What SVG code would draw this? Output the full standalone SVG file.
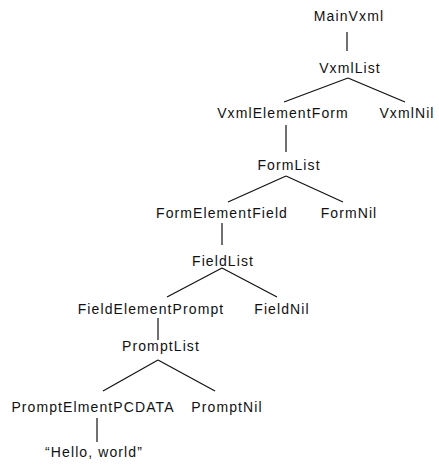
<svg xmlns="http://www.w3.org/2000/svg" width="439" height="465" viewBox="0 0 439 465">
<style>
text{font-family:"Liberation Sans",Arial,sans-serif;font-size:14px;letter-spacing:1.1px;fill:#111;text-anchor:middle}
.c line{stroke:#111;stroke-width:1.2}
</style>
<rect width="439" height="465" fill="#fff"/>
<g class="c" id="connectors">
<line x1="347" y1="32" x2="347" y2="51"/>
<line x1="348" y1="78" x2="284" y2="102"/>
<line x1="348" y1="78" x2="405" y2="102"/>
<line x1="286" y1="125" x2="286" y2="152"/>
<line x1="286" y1="176" x2="228" y2="202"/>
<line x1="286" y1="176" x2="343" y2="202"/>
<line x1="222" y1="223" x2="222" y2="245"/>
<line x1="222" y1="268" x2="167" y2="297"/>
<line x1="222" y1="268" x2="277" y2="297"/>
<line x1="158" y1="318" x2="158" y2="340"/>
<line x1="158" y1="360" x2="103" y2="391"/>
<line x1="158" y1="360" x2="215" y2="391"/>
<line x1="97" y1="418" x2="97" y2="442"/>
</g>
<g id="n-mainvxml"><text x="349" y="21">MainVxml</text></g>
<g id="n-vxmllist"><text x="350" y="73">VxmlList</text></g>
<g id="n-vxmlelementform"><text x="283" y="118">VxmlElementForm</text></g>
<g id="n-vxmlnil"><text x="407" y="118">VxmlNil</text></g>
<g id="n-formlist"><text x="289" y="170">FormList</text></g>
<g id="n-formelementfield"><text x="222" y="218">FormElementField</text></g>
<g id="n-formnil"><text x="349" y="218">FormNil</text></g>
<g id="n-fieldlist"><text x="223" y="266">FieldList</text></g>
<g id="n-fieldelementprompt"><text x="151" y="314">FieldElementPrompt</text></g>
<g id="n-fieldnil"><text x="282" y="314">FieldNil</text></g>
<g id="n-promptlist"><text x="161" y="351">PromptList</text></g>
<g id="n-promptelmentpcdata"><text x="93" y="412">PromptElmentPCDATA</text></g>
<g id="n-promptnil"><text x="227" y="412">PromptNil</text></g>
<g id="n-hello"><text x="94" y="457">“Hello, world”</text></g>
</svg>
